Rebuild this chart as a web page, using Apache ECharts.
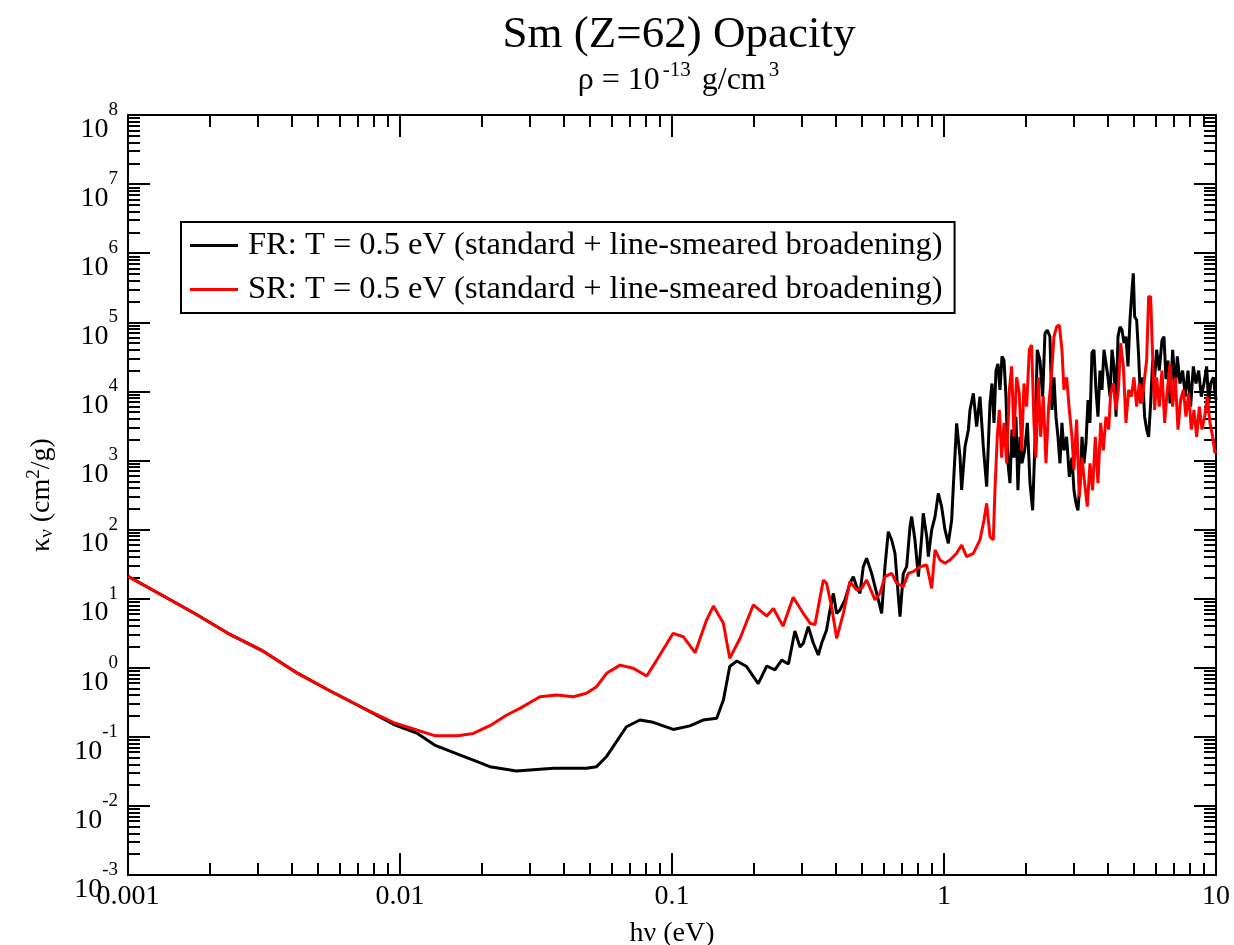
<!DOCTYPE html>
<html>
<head>
<meta charset="utf-8">
<script src="https://cdn.jsdelivr.net/npm/echarts@6/dist/echarts.min.js"></script>
<style>
  html, body { margin: 0; padding: 0; background: #fff; }
  #chart { width: 1234px; height: 945px; }
</style>
</head>
<body>
<div id="chart"></div>
<script>
// Sm (Z=62) opacity, rho = 1e-13 g/cm^3, T = 0.5 eV
// 数据读自原图 (log-log)

var FR_NAME = 'FR: T = 0.5 eV (standard + line-smeared broadening)';
var SR_NAME = 'SR: T = 0.5 eV (standard + line-smeared broadening)';

// photon energy hν (eV) / κν (cm2/g), FR
var energyFR = [
  0.001, 0.00133, 0.00176, 0.00233, 0.00309, 0.0041, 0.00543, 0.0072, 0.0096, 0.0116,
  0.0134, 0.0163, 0.0186, 0.0214, 0.0268, 0.0327, 0.0367, 0.0485, 0.0528, 0.0575,
  0.068, 0.0762, 0.0853, 0.101, 0.1164, 0.130, 0.146, 0.1545, 0.163, 0.173,
  0.188, 0.2075, 0.223, 0.239, 0.253, 0.268,
  0.283, 0.2955, 0.304, 0.317, 0.331, 0.345, 0.355, 0.370, 0.381, 0.392,
  0.403, 0.4146, 0.4325, 0.451, 0.464, 0.4775, 0.491, 0.505, 0.5195, 0.542,
  0.5576, 0.5735, 0.590, 0.6067, 0.624, 0.6422, 0.6605, 0.6795, 0.689, 0.7085,
  0.729, 0.750, 0.7605, 0.782, 0.805, 0.828, 0.839, 0.864, 0.876, 0.901,
  0.927, 0.953, 0.980, 1.0085, 1.037, 1.067, 1.082, 1.113, 1.145, 1.161,
  1.195, 1.229, 1.246, 1.282, 1.318, 1.356, 1.395, 1.435,
  1.476, 1.501, 1.527, 1.553, 1.579, 1.606, 1.634, 1.662, 1.690, 1.719,
  1.748, 1.778, 1.808, 1.839, 1.870, 1.903, 1.935, 1.979, 2.025, 2.071,
  2.118, 2.160, 2.203, 2.253, 2.305, 2.351, 2.398, 2.452, 2.494, 2.537,
  2.580, 2.624, 2.669, 2.714, 2.761, 2.824, 2.889, 2.955, 3.005, 3.056,
  3.108, 3.162, 3.216, 3.271, 3.327, 3.384, 3.441, 3.499, 3.559, 3.620,
  3.682, 3.745, 3.809, 3.874, 3.940, 4.008, 4.076, 4.146, 4.217, 4.289,
  4.362, 4.437, 4.513, 4.589, 4.667, 4.747, 4.828, 4.911, 4.966, 5.022,
  5.108, 5.196, 5.284, 5.374, 5.466, 5.559, 5.654, 5.751, 5.848, 5.948,
  6.050, 6.188, 6.330, 6.438, 6.548, 6.660, 6.774, 6.929, 7.087, 7.207,
  7.372, 7.540, 7.712, 7.888, 8.068, 8.253, 8.441, 8.635, 8.831, 9.033,
  9.239, 9.396, 9.557, 9.775, 10
];
var kappaFR = [
  21, 11.3, 6.1, 3.15, 1.8, 0.88, 0.48, 0.27, 0.148, 0.112,
  0.076, 0.056, 0.046, 0.037, 0.032, 0.034, 0.035, 0.035, 0.037, 0.052,
  0.14, 0.175, 0.162, 0.128, 0.144, 0.175, 0.185, 0.34, 1.04, 1.25,
  1.04, 0.59, 1.06, 0.93, 1.29, 1.13,
  3.4, 2.0, 2.26, 3.94, 2.26, 1.53, 2.26, 3.52, 6.86, 11.9,
  6.1, 6.86, 9.6, 16.7, 20.8, 14.9, 11.9, 29, 38.4, 23.2,
  14.9, 9.6, 6.1, 29, 93, 70.6, 45.3, 10.7, 5.5, 23.2,
  29, 110, 154, 70.6, 20.8, 79, 172, 79, 40.6, 98.6,
  154, 334, 214, 98.6, 63, 137, 418, 3440, 1135, 374,
  1585, 2760, 5370, 9350, 3080, 8380, 1585, 418,
  6700, 13000, 3500, 20000, 25000, 10500, 32000, 28000, 8400, 910,
  470, 2800, 1100, 4300, 370, 2200, 910, 1400, 3500, 470,
  190, 1800, 40000, 28000, 8400, 69000, 77000, 62000, 5400, 16000,
  4300, 2200, 910, 3500, 1400, 2200, 580, 1100, 370, 240,
  190, 470, 2200, 910, 1800, 7500, 3500, 36000, 40000, 10500,
  4300, 20000, 10500, 40000, 40000, 16000, 8400, 40000, 23000, 4300,
  62000, 86000, 77000, 50000, 62000, 23000, 108000, 290000, 510000, 120000,
  108000, 32000, 6700, 16000, 4300, 2800, 2200, 6700, 28000, 16000,
  40000, 20000, 55000, 62000, 15000, 28000, 6700, 40000, 10500, 32000,
  13000, 20000, 8400, 20000, 6000, 23000, 13000, 20000, 8400, 13000,
  23000, 6700, 13000, 16000, 7500
];

// SR
var energySR = [
  0.001, 0.00133, 0.00176, 0.00233, 0.00309, 0.0041, 0.00543, 0.0072, 0.0096, 0.011,
  0.0134, 0.0163, 0.0186, 0.0214, 0.0247, 0.0276, 0.0327, 0.0377, 0.0434, 0.0485,
  0.0528, 0.0575, 0.0644, 0.0721, 0.0807, 0.0879, 0.101, 0.110, 0.1216, 0.134,
  0.142, 0.1545, 0.163, 0.178, 0.199, 0.223, 0.236, 0.256, 0.279,
  0.304, 0.322, 0.3355, 0.360, 0.370, 0.386, 0.403, 0.4266, 0.451, 0.4775,
  0.498, 0.5195, 0.5576, 0.5815, 0.6067, 0.6422, 0.6696, 0.7085, 0.739, 0.771,
  0.816, 0.864, 0.901, 0.927, 0.9667, 1.0085, 1.052, 1.113, 1.161, 1.211,
  1.282, 1.356, 1.403, 1.435, 1.476, 1.518,
  1.539, 1.570, 1.597, 1.629, 1.662, 1.699, 1.739, 1.773, 1.808, 1.849,
  1.891, 1.930, 1.968, 2.013, 2.059, 2.100, 2.142, 2.178, 2.222, 2.266,
  2.318, 2.371, 2.425, 2.480, 2.537, 2.595, 2.654, 2.714, 2.761, 2.824,
  2.889, 2.955, 3.005, 3.073, 3.143, 3.216, 3.289, 3.364, 3.441, 3.519,
  3.600, 3.682, 3.767, 3.852, 3.940, 4.030, 4.100, 4.193, 4.289, 4.375,
  4.462, 4.564, 4.667, 4.774, 4.883, 4.994, 5.108, 5.224, 5.344, 5.466,
  5.559, 5.654, 5.751, 5.848, 5.948, 6.050, 6.188, 6.330, 6.475, 6.622,
  6.774, 6.929, 7.087, 7.249, 7.413, 7.583, 7.756, 7.933, 8.114, 8.299,
  8.489, 8.683, 8.881, 9.083, 9.290, 9.502, 9.719, 9.913, 10
];
var kappaSR = [
  21, 11.3, 6.1, 3.15, 1.8, 0.88, 0.48, 0.27, 0.157, 0.133,
  0.104, 0.104, 0.112, 0.145, 0.207, 0.258, 0.381, 0.403, 0.381, 0.427,
  0.531, 0.83, 1.09, 0.98, 0.76, 1.29, 3.15, 2.81, 1.65, 4.9,
  7.8, 4.4, 1.37, 2.67, 8.1, 5.6, 7.2, 4.0, 10.5,
  6.1, 4.4, 4.2, 18.6, 16.7, 7.7, 2.67, 6.1, 17.6, 13.3,
  14.1, 18.6, 9.6, 11.9, 20.8, 23.2, 16.7, 14.9, 23.2, 24.6,
  29, 30.7, 14.1, 50.6, 36.3, 32.5, 36.3, 45.3, 59.8, 40.6,
  45.3, 70.7, 137, 240, 79, 71,
  370, 2200, 5400, 1100, 3500, 910, 10500, 23000, 2200, 16000,
  9400, 1400, 13000, 6000, 40000, 47000, 3500, 1100, 16000, 2200,
  8400, 910, 6000, 16000, 62000, 86000, 91000, 40000, 10500, 16000,
  5400, 2200, 730, 3900, 300, 1100, 470, 215, 910, 370,
  2200, 470, 3500, 1400, 4300, 2800, 9400, 13000, 5400, 10500,
  50000, 23000, 3500, 10500, 8400, 16000, 6000, 13000, 6700, 16000,
  28000, 235000, 235000, 32000, 5400, 16000, 6000, 20000, 3500, 10500,
  25000, 6000, 16000, 2800, 7500, 10500, 4300, 9400, 2800, 5400,
  2200, 6000, 2800, 4300, 8400, 3500, 2200, 1270, 1400
];

// 坐标轴刻度
var xTickLabels = ['0.001', '0.01', '0.1', '1', '10'];
var xDecades = [0.001, 0.01, 0.1, 1, 10];
var yExponents = [-3, -2, -1, 0, 1, 2, 3, 4, 5, 6, 7, 8];

var FONT = 'Liberation Serif';

function zip(xs, ys) {
  return xs.map(function (x, i) { return [x, ys[i]]; });
}

// 每个十进位内 2..9 的次刻度
function minorTicks(lo, hi) {
  var out = [];
  for (var e = lo; e < hi; e++) {
    for (var m = 2; m <= 9; m++) out.push(m * Math.pow(10, e));
  }
  return out;
}

var yDecades = yExponents.map(function (e) { return Math.pow(10, e); });

function xLabel(v) {
  var i = Math.round(Math.log10(v)) + 3;
  return xTickLabels[i] || '';
}
function yLabel(v) {
  var e = Math.round(Math.log10(v));
  return '{b|10}{s|' + e + '}';
}

var AXIS_COLOR = '#000';
var MAJOR = 22, MINOR = 12;

function xAxisDef(pos, major, withLabels) {
  return {
    type: 'log', logBase: 10, min: 0.001, max: 10, position: pos,
    axisLine: { show: major, onZero: false, lineStyle: { color: AXIS_COLOR, width: 2 } },
    axisTick: {
      show: true, inside: true, length: major ? MAJOR : MINOR,
      customValues: major ? xDecades : minorTicks(-3, 1),
      lineStyle: { color: AXIS_COLOR, width: 2 }
    },
    minorTick: { show: false },
    splitLine: { show: false },
    axisLabel: withLabels ? {
      show: true, customValues: xDecades, formatter: xLabel, margin: 8,
      color: '#000', fontFamily: FONT, fontSize: 28
    } : { show: false }
  };
}
function yAxisDef(pos, major, withLabels) {
  return {
    type: 'log', logBase: 10, min: 1e-3, max: 1e8, position: pos,
    axisLine: { show: major, onZero: false, lineStyle: { color: AXIS_COLOR, width: 2 } },
    axisTick: {
      show: true, inside: true, length: major ? MAJOR : MINOR,
      customValues: major ? yDecades : minorTicks(-3, 8),
      lineStyle: { color: AXIS_COLOR, width: 2 }
    },
    minorTick: { show: false },
    splitLine: { show: false },
    axisLabel: withLabels ? {
      show: true, customValues: yDecades, formatter: yLabel, margin: 10,
      color: '#000', fontFamily: FONT,
      rich: {
        b: { fontFamily: FONT, fontSize: 28, color: '#000', verticalAlign: 'bottom', padding: [0, 0, -14, 0] },
        s: { fontFamily: FONT, fontSize: 19, color: '#000', verticalAlign: 'bottom', padding: [0, 0, 10, 0] }
      }
    } : { show: false }
  };
}

var xMain = xAxisDef('bottom', true, true);
xMain.name = 'hν (eV)';
xMain.nameLocation = 'middle';
xMain.nameGap = 45;
xMain.nameTextStyle = { fontFamily: FONT, fontSize: 28, color: '#000' };

var yMain = yAxisDef('left', true, true);
yMain.name = '{k|κ}{sub|ν}{k| (cm}{sup|2}{k|/g)}';
yMain.nameLocation = 'middle';
yMain.nameGap = 70;
yMain.nameTextStyle = {
  fontFamily: FONT, fontSize: 28, color: '#000',
  rich: {
    k: { fontFamily: FONT, fontSize: 28, color: '#000' },
    sub: { fontFamily: FONT, fontSize: 19, color: '#000', padding: [12, 0, 0, 0] },
    sup: { fontFamily: FONT, fontSize: 19, color: '#000', padding: [0, 0, 14, 0] }
  }
};

var option = {
  animation: false,
  backgroundColor: '#fff',
  title: [
    {
      text: 'Sm (Z=62) Opacity', left: 674, top: 8, textAlign: 'center',
      textStyle: { fontFamily: FONT, fontSize: 45, fontWeight: 'normal', color: '#000' }
    },
    {
      text: '{t|ρ = 10}{s|-13}{t| g/cm}{s|3}', left: 675, top: 55, textAlign: 'center',
      textStyle: {
        fontWeight: 'normal',
        rich: {
          t: { fontFamily: FONT, fontSize: 32, fontWeight: 'normal', color: '#000', verticalAlign: 'bottom' },
          s: { fontFamily: FONT, fontSize: 21, fontWeight: 'normal', color: '#000', verticalAlign: 'bottom', padding: [0, 3, 16, 3] }
        }
      }
    }
  ],
  legend: {
    orient: 'vertical', left: 181, top: 222,
    backgroundColor: '#fff', borderColor: '#000', borderWidth: 2,
    padding: [7, 12, 7, 9], itemGap: 11,
    icon: 'rect', itemWidth: 48, itemHeight: 3,
    textStyle: { fontFamily: FONT, fontSize: 32.5, color: '#000', padding: [0, 0, 0, 5] },
    data: [FR_NAME, SR_NAME]
  },
  grid: { left: 128, right: 18, top: 115, bottom: 70, containLabel: false, outerBoundsMode: 'none' },
  xAxis: [
    xMain,
    xAxisDef('bottom', false, false),
    xAxisDef('top', true, false),
    xAxisDef('top', false, false)
  ],
  yAxis: [
    yMain,
    yAxisDef('left', false, false),
    yAxisDef('right', true, false),
    yAxisDef('right', false, false)
  ],
  series: [
    {
      name: FR_NAME, type: 'line', xAxisIndex: 0, yAxisIndex: 0,
      data: zip(energyFR, kappaFR),
      showSymbol: false, symbol: 'none',
      lineStyle: { color: '#000', width: 3 }, itemStyle: { color: '#000' }
    },
    {
      name: SR_NAME, type: 'line', xAxisIndex: 0, yAxisIndex: 0,
      data: zip(energySR, kappaSR),
      showSymbol: false, symbol: 'none',
      lineStyle: { color: '#ff0000', width: 3 }, itemStyle: { color: '#ff0000' }
    }
  ]
};

var chart = echarts.init(document.getElementById('chart'), null, { renderer: 'canvas' });
chart.setOption(option);
</script>
</body>
</html>
